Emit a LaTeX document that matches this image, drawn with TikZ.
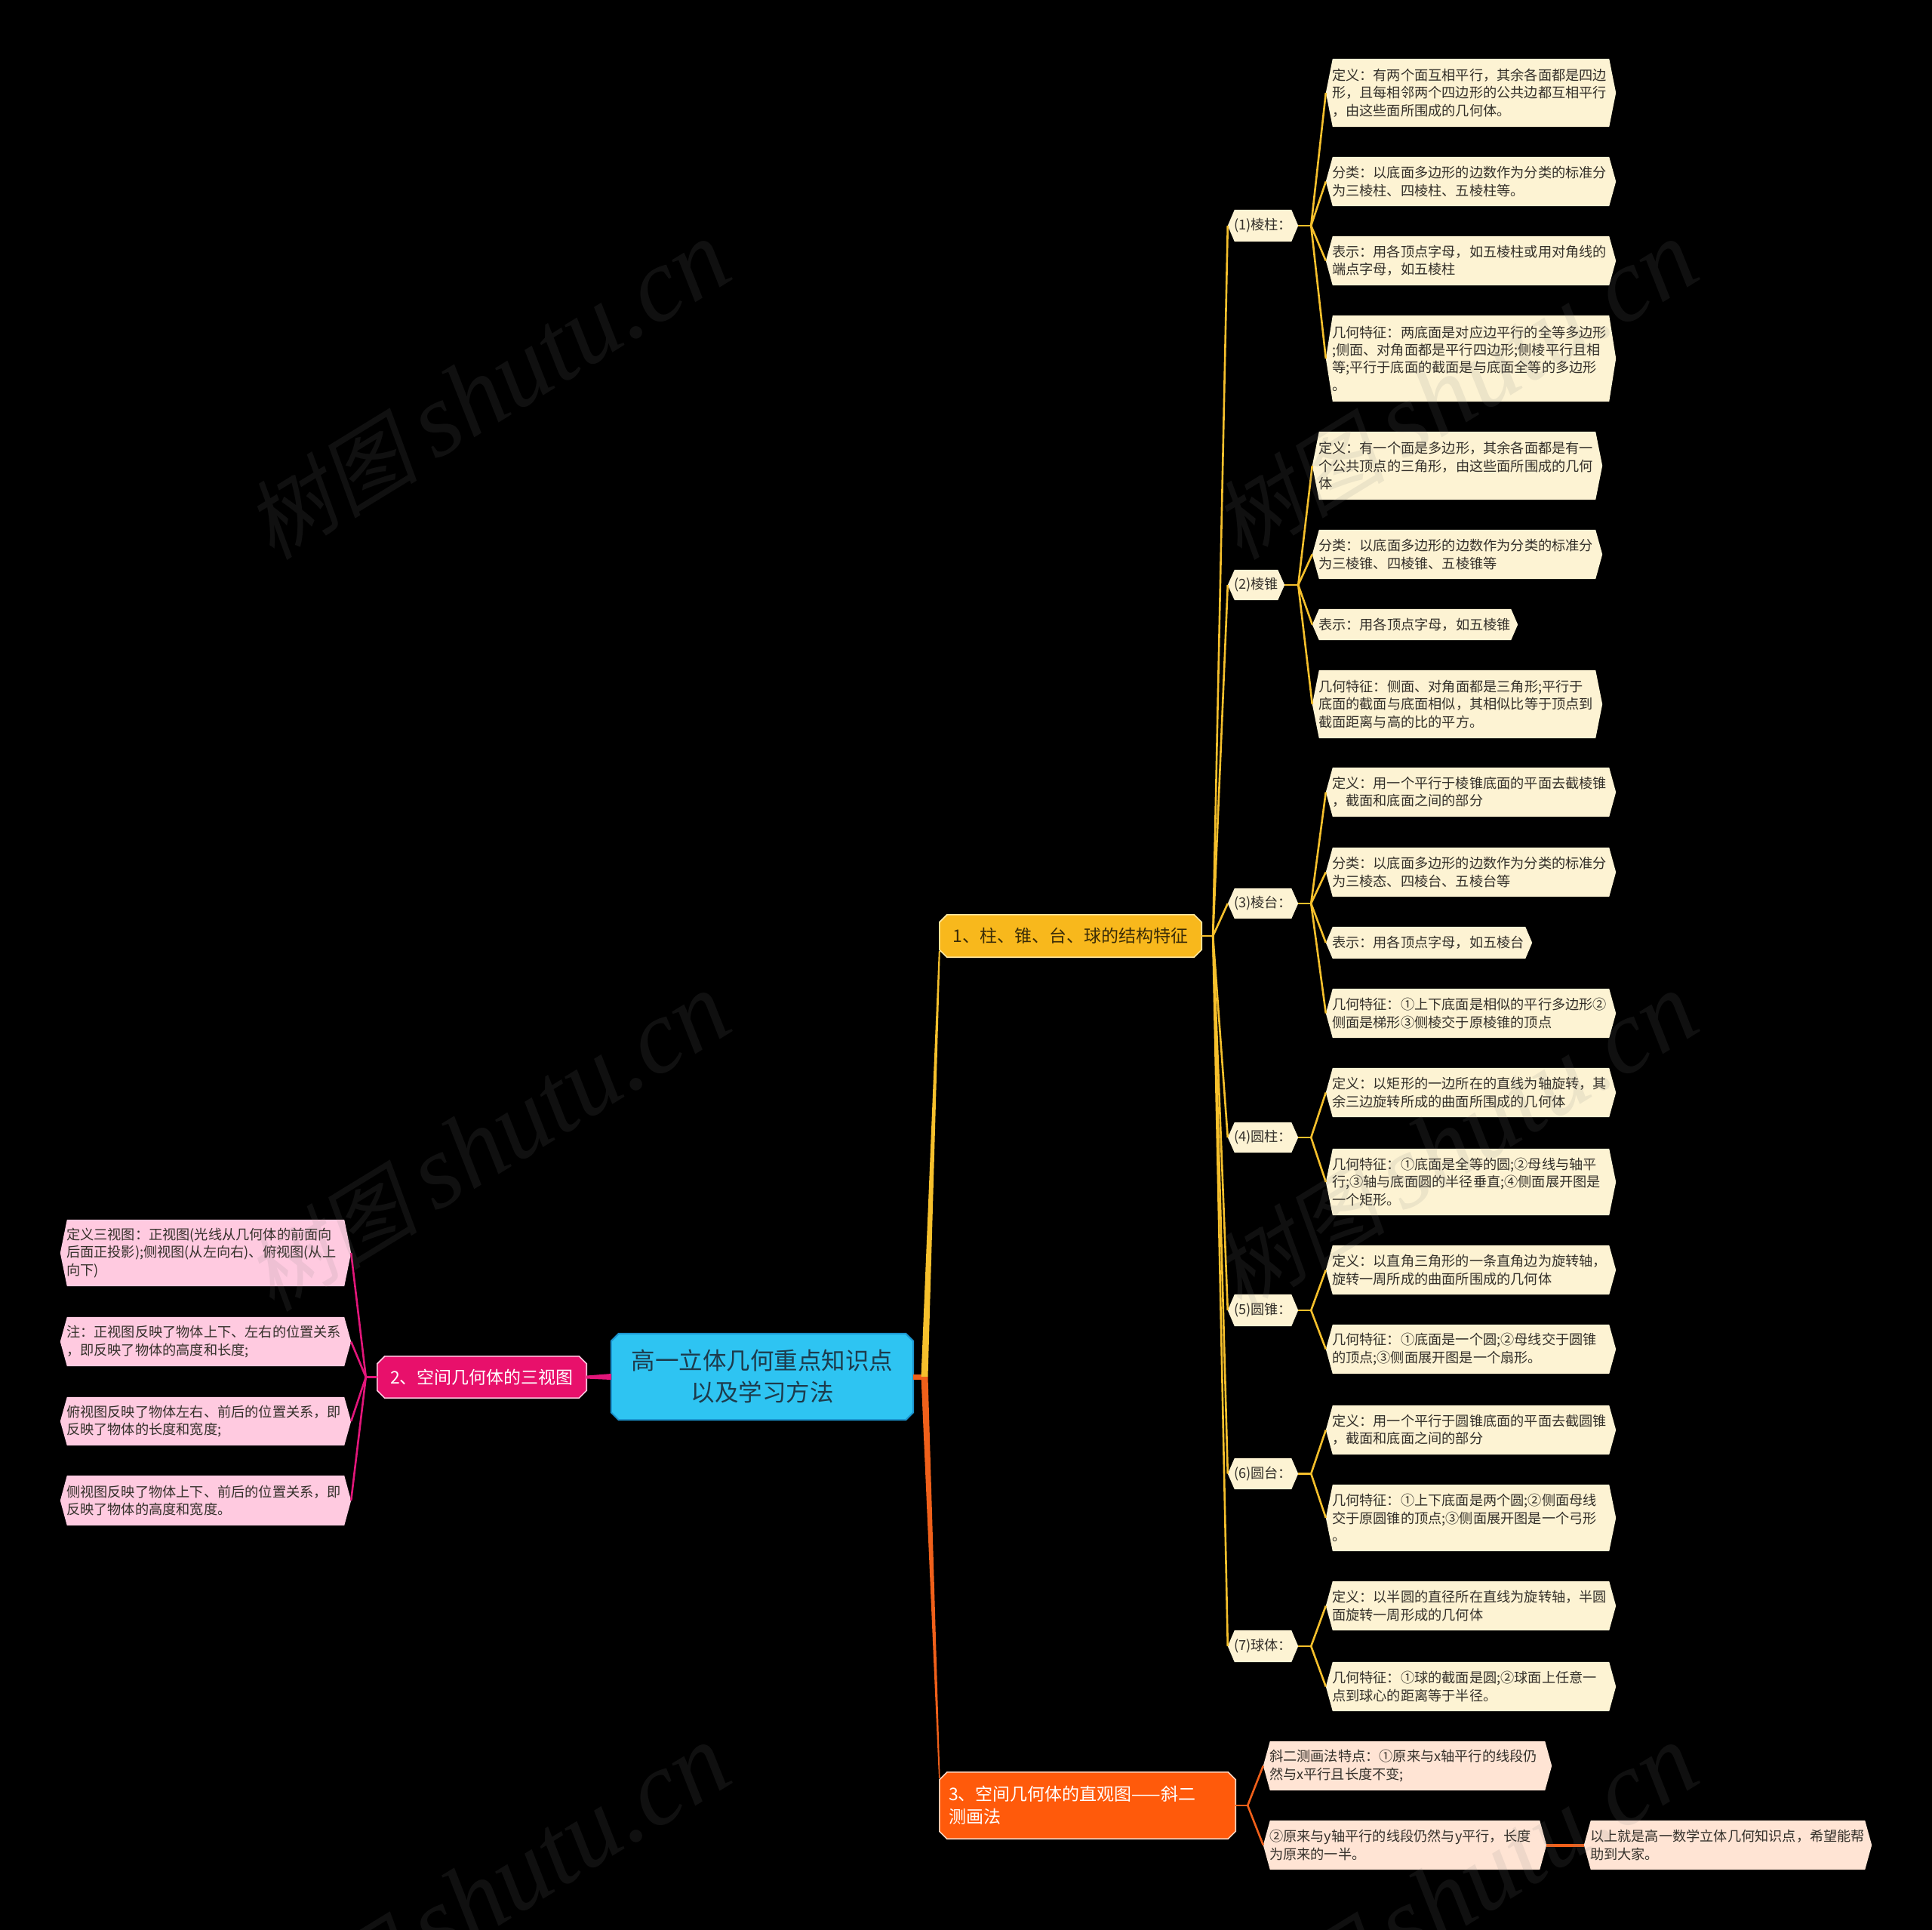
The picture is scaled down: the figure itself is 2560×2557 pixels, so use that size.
\documentclass[tikz,border=0pt]{standalone}
\usepackage{fontspec}
\newfontfamily\cjk{Noto Sans CJK SC}
\newfontfamily\wmcjk[FakeSlant=0.2]{Noto Sans CJK SC}
\newfontfamily\wmlat{Liberation Serif}
\usetikzlibrary{calc}
\pgfdeclarelayer{back}
\pgfsetlayers{back,main}
\definecolor{cream}{HTML}{FDF3D3}
\definecolor{leaftxt}{HTML}{34302A}
\definecolor{gold}{HTML}{F8B81C}
\definecolor{goldline}{HTML}{F6C02C}
\definecolor{goldborder}{HTML}{FFE7A0}
\definecolor{b1txt}{HTML}{3A2C08}
\definecolor{rootfill}{HTML}{2EC4F2}
\definecolor{rootborder}{HTML}{1B95D0}
\definecolor{roottxt}{HTML}{1D3B4C}
\definecolor{magent}{HTML}{E8106B}
\definecolor{pinkleaf}{HTML}{FFCAE0}
\definecolor{pinkline}{HTML}{E2167A}
\definecolor{pinkborder}{HTML}{FFC4DC}
\definecolor{orng}{HTML}{FF5A0B}
\definecolor{peach}{HTML}{FFE4D4}
\definecolor{orline}{HTML}{F0601A}
\definecolor{orborder}{HTML}{FFD2BC}
\definecolor{wmgray}{HTML}{808080}

% hexagon fill behind a node
\newcommand\hexfill[3]{\begin{pgfonlayer}{back}\fill[#2] (#1.west) -- ([xshift=#3]#1.north west) -- ([xshift=-#3]#1.north east) -- (#1.east) -- ([xshift=-#3]#1.south east) -- ([xshift=#3]#1.south west) -- cycle;\end{pgfonlayer}}
% octagon fill behind a node
\newcommand\octfill[2]{\begin{pgfonlayer}{back}\path[#2] ([xshift=10pt]#1.north west) -- ([xshift=-10pt]#1.north east) -- ([yshift=-10pt]#1.north east) -- ([yshift=10pt]#1.south east) -- ([xshift=-10pt]#1.south east) -- ([xshift=10pt]#1.south west) -- ([yshift=10pt]#1.south west) -- ([yshift=-10pt]#1.north west) -- cycle;\end{pgfonlayer}}
% leaf: name, style, fill, xl, yt, xr, yb, text
\newcommand\leafnode[8]{%
  \pgfmathsetmacro\hxw{#6-#4}\pgfmathsetmacro\hxh{#7-#5}%
  \pgfmathsetmacro\hxcx{(#4+#6)/2}\pgfmathsetmacro\hxcy{(#5+#7)/2}%
  \pgfmathsetmacro\hxtw{#6-#4-16}%
  \node[#2, minimum width=\hxw pt, minimum height=\hxh pt, text width=\hxtw pt] (#1) at (\hxcx,\hxcy) {#8};
  \hexfill{#1}{#3}{9pt}}
\newcommand\subnode[8]{%
  \pgfmathsetmacro\hxw{#6-#4}\pgfmathsetmacro\hxh{#7-#5}%
  \pgfmathsetmacro\hxcx{(#4+#6)/2}\pgfmathsetmacro\hxcy{(#5+#7)/2}%
  \node[#2, minimum width=\hxw pt, minimum height=\hxh pt] (#1) at (\hxcx,\hxcy) {#8};
  \hexfill{#1}{#3}{9pt}}
\newcommand\octnode[8]{%
  \pgfmathsetmacro\hxw{#6-#4}\pgfmathsetmacro\hxh{#7-#5}%
  \pgfmathsetmacro\hxcx{(#4+#6)/2}\pgfmathsetmacro\hxcy{(#5+#7)/2}%
  \node[#2, minimum width=\hxw pt, minimum height=\hxh pt] (#1) at (\hxcx,\hxcy) {#8};
  \octfill{#1}{#3}}
\newcommand\wmtext{{\wmcjk\fontsize{115}{115}\selectfont 树图}\hspace{24pt}{\wmlat\itshape\fontsize{139}{139}\selectfont shutu.cn}}

\begin{document}
\begin{tikzpicture}[x=1pt,y=-1pt,
  leaf/.style={inner xsep=8pt, inner ysep=0pt, align=left, text=leaftxt, font=\cjk\fontsize{18.2}{23.3}\selectfont},
  sub/.style={inner xsep=2pt, inner ysep=0pt, text=leaftxt, font=\cjk\fontsize{18.2}{23.3}\selectfont},
  rootst/.style={inner sep=0pt, align=center, text=roottxt, font=\cjk\fontsize{31.5}{42}\selectfont},
  brst/.style={inner sep=0pt, align=center, font=\cjk\fontsize{23}{30}\selectfont},
  gl/.style={draw=goldline, line width=2.6pt},
  pl/.style={draw=pinkline, line width=2.6pt},
  ol/.style={draw=orline, line width=2.6pt},
  wm/.style={text=wmgray, text opacity=0.13, inner sep=0pt, rotate=31.5}]
\useasboundingbox (0,0) rectangle (2560,2557);
\begin{pgfonlayer}{back}
\fill[black] (0,0) rectangle (2560,2557);
\end{pgfonlayer}

% root and main branches
\octnode{root}{rootst}{fill=rootfill, draw=rootborder, line width=2pt}{810}{1767}{1210}{1881}{高一立体几何重点知识点\\以及学习方法}
\octnode{b1}{brst, text=b1txt}{fill=gold, draw=goldborder, line width=1.6pt}{1245}{1212}{1592}{1268}{1、柱、锥、台、球的结构特征}
\octnode{b2}{brst, text=white}{fill=magent, draw=pinkborder, line width=1.6pt}{500}{1797}{777}{1852}{2、空间几何体的三视图}
\octnode{b3}{brst, text=white, align=left, text width=368pt}{fill=orng, draw=orborder, line width=1.6pt}{1245}{2348}{1637}{2436}{3、空间几何体的直观图——斜二\\测画法}

% level 2 under branch 1
\subnode{n1}{sub}{cream}{1627}{278}{1720}{320}{(1)棱柱：}
\subnode{n2}{sub}{cream}{1627}{755}{1702}{795}{(2)棱锥}
\subnode{n3}{sub}{cream}{1627}{1177}{1720}{1217}{(3)棱台：}
\subnode{n4}{sub}{cream}{1627}{1487}{1720}{1527}{(4)圆柱：}
\subnode{n5}{sub}{cream}{1627}{1715}{1720}{1757}{(5)圆锥：}
\subnode{n6}{sub}{cream}{1627}{1932}{1720}{1973}{(6)圆台：}
\subnode{n7}{sub}{cream}{1627}{2160}{1720}{2202}{(7)球体：}

% leaves (1)
\leafnode{n1a}{leaf}{cream}{1757}{78}{2141}{168}{定义：有两个面互相平行，其余各面都是四边\\形，且每相邻两个四边形的公共边都互相平行\\，由这些面所围成的几何体。}
\leafnode{n1b}{leaf}{cream}{1757}{208}{2141}{273}{分类：以底面多边形的边数作为分类的标准分\\为三棱柱、四棱柱、五棱柱等。}
\leafnode{n1c}{leaf}{cream}{1757}{313}{2141}{378}{表示：用各顶点字母，如五棱柱或用对角线的\\端点字母，如五棱柱}
\leafnode{n1d}{leaf}{cream}{1757}{418}{2141}{532}{几何特征：两底面是对应边平行的全等多边形\\;侧面、对角面都是平行四边形;侧棱平行且相\\等;平行于底面的截面是与底面全等的多边形\\。}
% leaves (2)
\leafnode{n2a}{leaf}{cream}{1739}{572}{2123}{662}{定义：有一个面是多边形，其余各面都是有一\\个公共顶点的三角形，由这些面所围成的几何\\体}
\leafnode{n2b}{leaf}{cream}{1739}{702}{2123}{767}{分类：以底面多边形的边数作为分类的标准分\\为三棱锥、四棱锥、五棱锥等}
\leafnode{n2c}{leaf}{cream}{1739}{807}{2011}{848}{表示：用各顶点字母，如五棱锥}
\leafnode{n2d}{leaf}{cream}{1739}{888}{2123}{978}{几何特征：侧面、对角面都是三角形;平行于\\底面的截面与底面相似，其相似比等于顶点到\\截面距离与高的比的平方。}
% leaves (3)
\leafnode{n3a}{leaf}{cream}{1757}{1017}{2141}{1082}{定义：用一个平行于棱锥底面的平面去截棱锥\\，截面和底面之间的部分}
\leafnode{n3b}{leaf}{cream}{1757}{1123}{2141}{1188}{分类：以底面多边形的边数作为分类的标准分\\为三棱态、四棱台、五棱台等}
\leafnode{n3c}{leaf}{cream}{1757}{1228}{2030}{1270}{表示：用各顶点字母，如五棱台}
\leafnode{n3d}{leaf}{cream}{1757}{1310}{2141}{1375}{几何特征：①上下底面是相似的平行多边形②\\侧面是梯形③侧棱交于原棱锥的顶点}
% leaves (4)
\leafnode{n4a}{leaf}{cream}{1757}{1415}{2141}{1480}{定义：以矩形的一边所在的直线为轴旋转，其\\余三边旋转所成的曲面所围成的几何体}
\leafnode{n4b}{leaf}{cream}{1757}{1522}{2141}{1610}{几何特征：①底面是全等的圆;②母线与轴平\\行;③轴与底面圆的半径垂直;④侧面展开图是\\一个矩形。}
% leaves (5)
\leafnode{n5a}{leaf}{cream}{1757}{1650}{2141}{1715}{定义：以直角三角形的一条直角边为旋转轴，\\旋转一周所成的曲面所围成的几何体}
\leafnode{n5b}{leaf}{cream}{1757}{1755}{2141}{1820}{几何特征：①底面是一个圆;②母线交于圆锥\\的顶点;③侧面展开图是一个扇形。}
% leaves (6)
\leafnode{n6a}{leaf}{cream}{1757}{1862}{2141}{1927}{定义：用一个平行于圆锥底面的平面去截圆锥\\，截面和底面之间的部分}
\leafnode{n6b}{leaf}{cream}{1757}{1967}{2141}{2055}{几何特征：①上下底面是两个圆;②侧面母线\\交于原圆锥的顶点;③侧面展开图是一个弓形\\。}
% leaves (7)
\leafnode{n7a}{leaf}{cream}{1757}{2095}{2141}{2160}{定义：以半圆的直径所在直线为旋转轴，半圆\\面旋转一周形成的几何体}
\leafnode{n7b}{leaf}{cream}{1757}{2202}{2141}{2267}{几何特征：①球的截面是圆;②球面上任意一\\点到球心的距离等于半径。}

% branch 2 leaves
\leafnode{m1}{leaf}{pinkleaf}{80}{1616}{465}{1704}{定义三视图：正视图(光线从几何体的前面向\\后面正投影);侧视图(从左向右)、俯视图(从上\\向下)}
\leafnode{m2}{leaf}{pinkleaf}{80}{1745}{465}{1810}{注：正视图反映了物体上下、左右的位置关系\\，即反映了物体的高度和长度;}
\leafnode{m3}{leaf}{pinkleaf}{80}{1851}{465}{1915}{俯视图反映了物体左右、前后的位置关系，即\\反映了物体的长度和宽度;}
\leafnode{m4}{leaf}{pinkleaf}{80}{1955}{465}{2021}{侧视图反映了物体上下、前后的位置关系，即\\反映了物体的高度和宽度。}

% branch 3 leaves
\leafnode{k1}{leaf}{peach}{1674}{2307}{2056}{2372}{斜二测画法特点：①原来与x轴平行的线段仍\\然与x平行且长度不变;}
\leafnode{k2}{leaf}{peach}{1674}{2412}{2049}{2477}{②原来与y轴平行的线段仍然与y平行，长度\\为原来的一半。}
\leafnode{k3}{leaf}{peach}{2099}{2412}{2480}{2477}{以上就是高一数学立体几何知识点，希望能帮\\助到大家。}

% connectors
\begin{pgfonlayer}{back}
\coordinate (rj) at (1225,1824);
\fill[orline] ([yshift=3.5pt]root.east) -- ([yshift=3.5pt]rj) -- ([yshift=-3.5pt]rj) -- ([yshift=-3.5pt]root.east) -- cycle;
\fill[goldline] ([xshift=-4.5pt]rj) -- ([xshift=-1pt,yshift=8pt]b1.south west) -- ([xshift=1pt,yshift=8pt]b1.south west) -- ([xshift=4.5pt]rj) -- cycle;
\fill[orline] ([xshift=-4.5pt]rj) -- ([xshift=-0.8pt,yshift=-8pt]b3.north west) -- ([xshift=0.8pt,yshift=-8pt]b3.north west) -- ([xshift=4.5pt]rj) -- cycle;
\fill[pinkline] ([yshift=4pt]root.west) -- ([yshift=2pt]b2.east) -- ([yshift=-2pt]b2.east) -- ([yshift=-4pt]root.west) -- cycle;

\draw[gl] (b1.east) -- ++(15pt,0) coordinate (j1);
\foreach \c in {n1,n2,n3,n4,n5,n6,n7} \draw[gl] (j1) -- (\c.west);

\draw[gl] (n1.east) -- ++(17pt,0) coordinate (jn1);
\foreach \c in {n1a,n1b,n1c,n1d} \draw[gl] (jn1) -- (\c.west);
\draw[gl] (n2.east) -- ++(18pt,0) coordinate (jn2);
\foreach \c in {n2a,n2b,n2c,n2d} \draw[gl] (jn2) -- (\c.west);
\draw[gl] (n3.east) -- ++(17pt,0) coordinate (jn3);
\foreach \c in {n3a,n3b,n3c,n3d} \draw[gl] (jn3) -- (\c.west);
\draw[gl] (n4.east) -- ++(17pt,0) coordinate (jn4);
\foreach \c in {n4a,n4b} \draw[gl] (jn4) -- (\c.west);
\draw[gl] (n5.east) -- ++(17pt,0) coordinate (jn5);
\foreach \c in {n5a,n5b} \draw[gl] (jn5) -- (\c.west);
\draw[gl] (n6.east) -- ++(17pt,0) coordinate (jn6);
\foreach \c in {n6a,n6b} \draw[gl] (jn6) -- (\c.west);
\draw[gl] (n7.east) -- ++(17pt,0) coordinate (jn7);
\foreach \c in {n7a,n7b} \draw[gl] (jn7) -- (\c.west);

\draw[pl] (b2.west) -- ++(-15pt,0) coordinate (j2);
\foreach \c in {m1,m2,m3,m4} \draw[pl] (j2) -- (\c.east);

\draw[ol] (b3.east) -- ++(16pt,0) coordinate (j3);
\foreach \c in {k1,k2} \draw[ol] (j3) -- (\c.west);
\draw[orline, line width=4pt] (k2.east) -- (k3.west);
\end{pgfonlayer}

% watermarks
\node[wm] (wm1) at (646,518) {\wmtext};
\node[wm] (wm2) at (1928,518) {\wmtext};
\node[wm] (wm3) at (646,1514) {\wmtext};
\node[wm] (wm4) at (1928,1514) {\wmtext};
\node[wm] (wm5) at (646,2510) {\wmtext};
\node[wm] (wm6) at (1928,2510) {\wmtext};
\end{tikzpicture}
\end{document}
